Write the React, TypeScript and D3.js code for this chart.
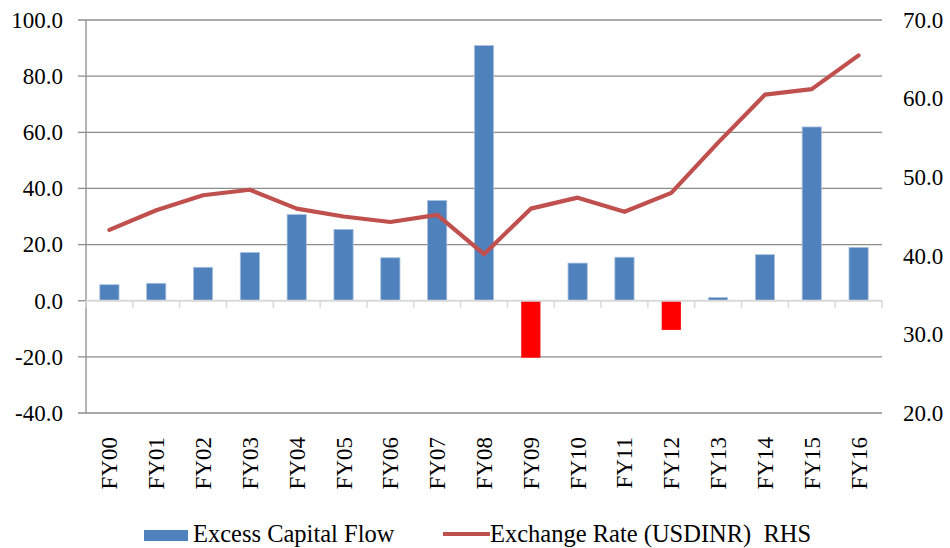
import React from 'react';
import * as d3 from 'd3';

const categories = ['FY00', 'FY01', 'FY02', 'FY03', 'FY04', 'FY05', 'FY06', 'FY07', 'FY08', 'FY09', 'FY10', 'FY11', 'FY12', 'FY13', 'FY14', 'FY15', 'FY16'];
const capitalFlow = [5.7, 6.2, 11.9, 17.2, 30.7, 25.4, 15.3, 35.7, 90.9, -20.3, 13.4, 15.5, -10.4, 1.1, 16.4, 61.9, 19.0];
const exchangeRate = [43.3, 45.8, 47.7, 48.4, 46.0, 45.0, 44.3, 45.2, 40.2, 46.0, 47.4, 45.6, 48.0, 54.4, 60.5, 61.2, 65.5];
const leftTicks = [100, 80, 60, 40, 20, 0, -20, -40];
const rightTicks = [70, 60, 50, 40, 30, 20];

const W = 950;
const H = 548;
const margin = { top: 20, right: 68, bottom: 135, left: 86 };
const FONT = "'Liberation Serif', 'Times New Roman', 'DejaVu Serif', serif";
const txt: React.CSSProperties = { fontFamily: FONT, fontSize: 23 };
const legendTxt: React.CSSProperties = { fontFamily: FONT, fontSize: 24.5, whiteSpace: 'pre' };

const App: React.FC = () => {
  const x = d3.scaleBand<string>()
    .domain(categories)
    .range([margin.left, W - margin.right])
    .paddingInner(0.59)
    .paddingOuter(0.295);
  const xc = d3.scaleBand<string>().domain(categories).range([margin.left, W - margin.right]);
  const yL = d3.scaleLinear().domain([-40, 100]).range([H - margin.bottom, margin.top]);
  const yR = d3.scaleLinear().domain([20, 70]).range([H - margin.bottom, margin.top]);

  const line = d3.line<number>()
    .x((_, i) => (xc(categories[i]) as number) + xc.bandwidth() / 2)
    .y(d => yR(d));

  const x0 = margin.left;
  const x1 = W - margin.right;
  const zeroY = yL(0);

  return (
    <svg width={W} height={H} style={{ position: 'absolute', left: 0, top: 0 }}>
      <rect width={W} height={H} fill="#fff" />

      {/* gridlines + left ticks */}
      {leftTicks.filter(t => t !== 0).map(t => (
        <line key={t} x1={x0 - 8} x2={x1} y1={yL(t)} y2={yL(t)} stroke="#8c8c8c" strokeWidth={1.3} />
      ))}
      <line x1={x0 - 8} x2={x0} y1={zeroY} y2={zeroY} stroke="#8c8c8c" strokeWidth={1.3} />
      <line x1={x0} x2={x0} y1={yL(100)} y2={yL(-40)} stroke="#8c8c8c" strokeWidth={1.3} />

      {leftTicks.map(t => (
        <text key={t} x={63} y={yL(t)} dy="0.34em" textAnchor="end" style={txt} fill="#000">
          {t.toFixed(1)}
        </text>
      ))}
      {rightTicks.map(t => (
        <text key={t} x={903} y={yR(t)} dy="0.34em" textAnchor="start" style={txt} fill="#000">
          {t.toFixed(1)}
        </text>
      ))}

      {/* bars */}
      {categories.map((c, i) => {
        const v = capitalFlow[i];
        return (
          <rect key={c}
            x={x(c)}
            y={v >= 0 ? yL(v) : zeroY}
            width={x.bandwidth()}
            height={Math.abs(yL(v) - zeroY)}
            fill={v >= 0 ? '#4F81BD' : '#FF0000'}
            stroke={v >= 0 ? '#a9c0de' : 'none'}
            strokeWidth={0.8} />
        );
      })}

      {/* zero axis */}
      <line x1={x0} x2={x1} y1={zeroY} y2={zeroY} stroke="#d9d9d9" strokeWidth={2} />
      {d3.range(categories.length + 1).map(i => {
        const tx = x0 + i * xc.step();
        return <line key={i} x1={tx} x2={tx} y1={zeroY} y2={zeroY + 7} stroke="#d9d9d9" strokeWidth={1.5} />;
      })}

      {/* exchange rate line */}
      <path d={line(exchangeRate) || ''} fill="none" stroke="#C0504D" strokeWidth={4.2} strokeLinejoin="round" strokeLinecap="round" />

      {/* category labels */}
      {categories.map(c => {
        const cx = (xc(c) as number) + xc.bandwidth() / 2;
        return (
          <text key={c} transform={`translate(${cx + 8},437) rotate(-90)`} textAnchor="end" style={txt} fill="#000">
            {c}
          </text>
        );
      })}

      {/* legend */}
      <rect x={144} y={530} width={44} height={11} fill="#4F81BD" />
      <text x={193} y={542} style={legendTxt} fill="#000">Excess Capital Flow</text>
      <line x1={443} x2={490} y1={534} y2={534} stroke="#C0504D" strokeWidth={4} />
      <text x={490} y={542} style={legendTxt} fill="#000">{'Exchange Rate (USDINR)  RHS'}</text>
    </svg>
  );
};

export default App;
